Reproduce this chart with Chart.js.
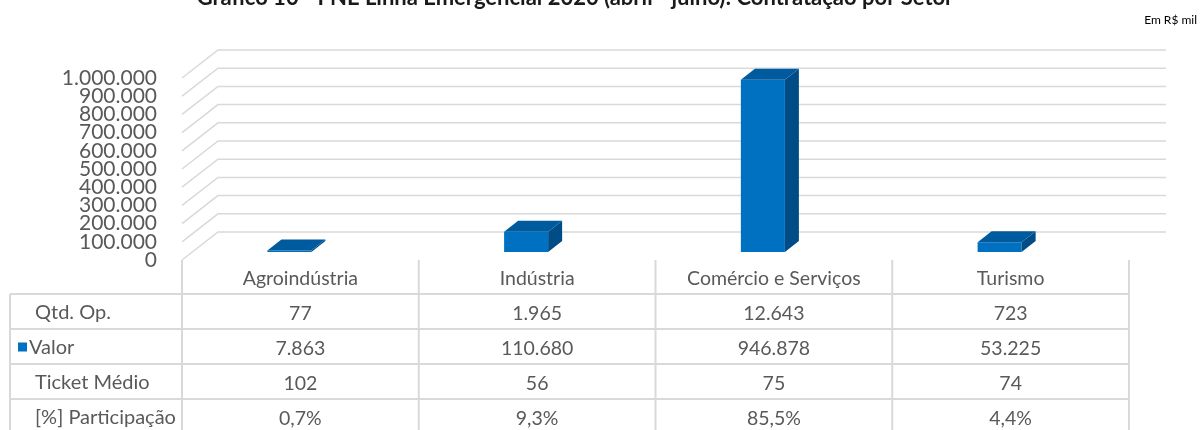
<!DOCTYPE html>
<html>
<head>
<meta charset="utf-8">
<script src="https://cdn.jsdelivr.net/npm/chart.js@4/dist/chart.umd.min.js"></script>
<style>
html, body { margin: 0; padding: 0; background: #fff; }
#wrap { width: 1200px; height: 430px; position: relative; }
</style>
</head>
<body>
<div id="wrap"><canvas id="setorChart"></canvas></div>
<script>
const setores = ['Agroindústria', 'Indústria', 'Comércio e Serviços', 'Turismo'];
const qtdOp = [77, 1965, 12643, 723];
const valor = [7863, 110680, 946878, 53225];
const ticketMedio = [102, 56, 75, 74];
const participacao = [0.7, 9.3, 85.5, 4.4];
const linhasTabela = ['Qtd. Op.', 'Valor', 'Ticket Médio', '[%] Participação'];

const titulo = 'Gráfico 10 - FNE Linha Emergencial 2020 (abril - julho): Contratação por Setor';
const unidade = 'Em R$ mil';

const azul = '#0070c0';
const cinzaTexto = '#595959';
const cinzaLinha = '#d9d9d9';

function fmt(n) { return String(n).replace(/\B(?=(\d{3})+(?!\d))/g, '.'); }
function pct(n) { return n.toFixed(1).replace('.', ',') + '%'; }

// parede do fundo + faces 3D das barras
const fundo3d = {
    id: 'fundo3d',
    beforeDatasetsDraw(chart) {
        const { ctx, chartArea: a, scales: { y } } = chart;
        ctx.save();
        ctx.strokeStyle = cinzaLinha;
        ctx.lineWidth = 1.5;
        y.ticks.forEach(t => {
            const py = y.getPixelForValue(t.value);
            ctx.beginPath();
            ctx.moveTo(a.left, py);
            ctx.lineTo(a.left + 36, py - 28);
            ctx.lineTo(a.right + 37, py - 28);
            ctx.stroke();
        });
        ctx.restore();
        // barras ficam no meio da profundidade
        ctx.save();
        ctx.translate(-11, -8);
    },
    afterDatasetsDraw(chart) {
        const ctx = chart.ctx;
        const dx = 14, dy = -11;
        chart.getDatasetMeta(0).data.forEach(bar => {
            const l = bar.x - bar.width / 2, r = bar.x + bar.width / 2;
            const t = bar.y, b = bar.base;
            ctx.fillStyle = '#004c86';
            ctx.beginPath();
            ctx.moveTo(r, t);
            ctx.lineTo(r + dx, t + dy);
            ctx.lineTo(r + dx, b + dy);
            ctx.lineTo(r, b);
            ctx.closePath();
            ctx.fill();
            ctx.fillStyle = '#005a9e';
            ctx.beginPath();
            ctx.moveTo(l, t);
            ctx.lineTo(l + dx, t + dy);
            ctx.lineTo(r + dx, t + dy);
            ctx.lineTo(r, t);
            ctx.closePath();
            ctx.fill();
        });
        ctx.restore();
    }
};

// tabela de dados, titulo e unidade
const tabela = {
    id: 'tabela',
    afterDraw(chart) {
        const { ctx, chartArea: a } = chart;
        const lh = 35;
        const top = a.bottom;
        const bottom = chart.height;
        const w = (a.right - a.left) / setores.length;
        ctx.save();
        ctx.strokeStyle = cinzaLinha;
        ctx.lineWidth = 2;
        for (let i = 1; i <= linhasTabela.length; i++) {
            const yy = top + lh * i - 1;
            ctx.beginPath();
            ctx.moveTo(10, yy);
            ctx.lineTo(a.right, yy);
            ctx.stroke();
        }
        for (let k = 0; k <= setores.length; k++) {
            const xx = a.left + w * k;
            ctx.beginPath();
            ctx.moveTo(xx, top);
            ctx.lineTo(xx, bottom);
            ctx.stroke();
        }
        ctx.beginPath();
        ctx.moveTo(10, top + lh - 1);
        ctx.lineTo(10, bottom);
        ctx.stroke();

        ctx.fillStyle = cinzaTexto;
        ctx.font = '20px Lato';
        ctx.textAlign = 'left';
        ctx.textBaseline = 'middle';
        linhasTabela.forEach((nome, i) => {
            // a linha "Valor" leva a chave da legenda antes do texto
            ctx.fillText(nome, i === 1 ? 29 : 35, top + lh * (i + 1.5));
        });
        ctx.fillStyle = azul;
        ctx.fillRect(18, top + lh * 2.5 - 5, 9, 9);

        ctx.fillStyle = '#1a1a1a';
        ctx.font = 'bold 22px Lato';
        ctx.textAlign = 'center';
        ctx.textBaseline = 'alphabetic';
        ctx.fillText(titulo, 575, 4.5);
        ctx.fillStyle = '#000';
        ctx.font = '12px Lato';
        ctx.textAlign = 'right';
        ctx.fillText(unidade, 1197, 24);
        ctx.restore();
    }
};

new Chart(document.getElementById('setorChart'), {
    type: 'bar',
    data: {
        labels: setores,
        datasets: [{
            label: 'Valor',
            data: valor,
            backgroundColor: azul,
            barPercentage: 0.186,
            categoryPercentage: 1,
            clip: false
        }]
    },
    options: {
        responsive: true,
        maintainAspectRatio: false,
        animation: false,
        layout: { padding: { top: 78, right: 71, left: 0, bottom: 0 } },
        plugins: {
            legend: { display: false },
            tooltip: { enabled: false }
        },
        scales: {
            x: {
                grid: { display: false, drawTicks: false },
                border: { display: false },
                ticks: {
                    autoSkip: false,
                    maxRotation: 0,
                    padding: 1,
                    color: cinzaTexto,
                    font: { family: 'Lato', size: 19.5, lineHeight: '35px' },
                    callback: (v, i) => [setores[i], fmt(qtdOp[i]), fmt(valor[i]), fmt(ticketMedio[i]), pct(participacao[i])]
                },
                afterFit: s => { s.height = 170; }
            },
            y: {
                min: 0,
                max: 1000000,
                grid: { display: false, drawTicks: false },
                border: { display: false },
                ticks: {
                    stepSize: 100000,
                    autoSkip: false,
                    padding: 25,
                    color: cinzaTexto,
                    font: { family: 'Lato', size: 21, lineHeight: 1 },
                    callback: v => fmt(v)
                },
                afterFit: s => { s.width = 182; }
            }
        }
    },
    plugins: [fundo3d, tabela]
});
</script>
</body>
</html>
